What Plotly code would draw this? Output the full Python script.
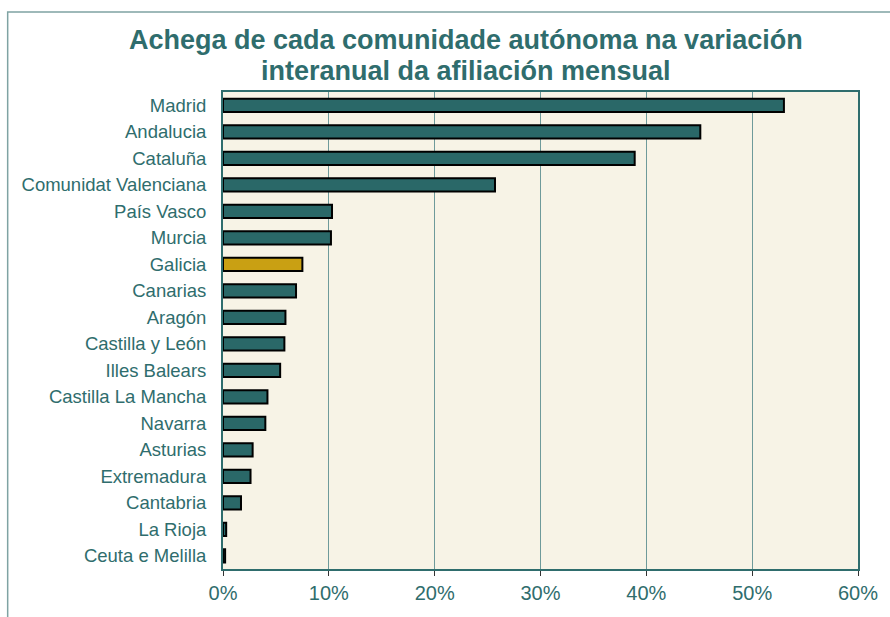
import plotly.graph_objects as go

regions = ["Madrid", "Andalucia", "Cataluña", "Comunidat Valenciana", "País Vasco",
           "Murcia", "Galicia", "Canarias", "Aragón", "Castilla y León", "Illes Balears",
           "Castilla La Mancha", "Navarra", "Asturias", "Extremadura", "Cantabria",
           "La Rioja", "Ceuta e Melilla"]
shares = [0.530, 0.451, 0.389, 0.257, 0.103, 0.102, 0.075, 0.069, 0.059, 0.058, 0.054,
          0.042, 0.040, 0.028, 0.026, 0.017, 0.003, 0.002]
x_ticks = [0, 0.1, 0.2, 0.3, 0.4, 0.5, 0.6]
x_tick_labels = ["0%", "10%", "20%", "30%", "40%", "50%", "60%"]
title_lines = ["Achega de cada comunidade autónoma na variación",
               "interanual da afiliación mensual"]

TEAL = "#2A6868"
GOLD = "#C9A013"
TXT = "#2F6D6D"
FONT = "Liberation Sans, Arial, sans-serif"
colors = [GOLD if r == "Galicia" else TEAL for r in regions]

fig = go.Figure(go.Bar(
    x=shares, y=regions, orientation="h",
    marker=dict(color=colors, line=dict(color="#000000", width=2)),
    width=0.5, showlegend=False, hoverinfo="x+y",
))

W, H = 890, 617
L, R, T, B = 223, 30, 92, 48
pw, ph = W - L - R, H - T - B


def py(pix):
    # pixel row -> paper y
    return (H - B - pix) / ph


def px(pix):
    return (pix - L) / pw


annotations = [
    dict(text="<b>%s</b>" % line, xref="paper", yref="paper",
         x=px(467), y=py(yc), xanchor="center", yanchor="middle", showarrow=False,
         font=dict(size=27, color=TXT, family=FONT))
    for line, yc in zip(title_lines, [40, 71])
]

fig.update_layout(
    width=W, height=H,
    margin=dict(l=L, r=R, t=T, b=B, pad=0),
    paper_bgcolor="white",
    plot_bgcolor="#F7F3E6",
    font=dict(family=FONT, color=TXT),
    annotations=annotations,
    xaxis=dict(
        range=[0, 0.6], tickvals=x_ticks, ticktext=x_tick_labels,
        showgrid=True, gridcolor="#6E9A9A", gridwidth=1,
        showline=True, linecolor=TXT, linewidth=2, mirror=True,
        ticks="outside", ticklen=5, tickcolor="#333333", tickwidth=1,
        tickfont=dict(size=20, color=TXT), zeroline=False, fixedrange=True,
    ),
    yaxis=dict(
        autorange="reversed", showgrid=False,
        showline=True, linecolor=TXT, linewidth=2, mirror=True,
        ticks="", ticklabelstandoff=11,
        tickfont=dict(size=18.5, color=TXT), fixedrange=True,
    ),
    bargap=0.5,
    shapes=[dict(
        type="rect", xref="paper", yref="paper",
        x0=px(7), x1=px(905), y0=py(640), y1=py(12),
        line=dict(color="#7FA3A3", width=1.5), fillcolor="rgba(0,0,0,0)", layer="below",
    )],
)

fig.write_html("out.html", config={"displayModeBar": False},
               post_script="document.body.style.margin='0px';")
